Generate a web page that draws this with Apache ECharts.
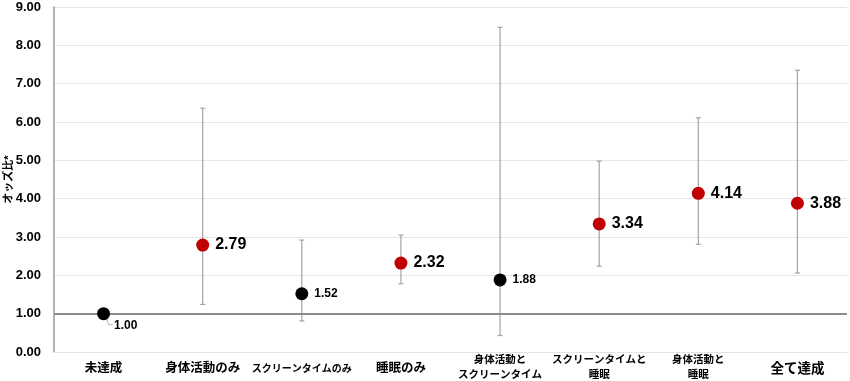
<!DOCTYPE html>
<html>
<head>
<meta charset="utf-8">
<script src="https://cdn.jsdelivr.net/npm/echarts@6/dist/echarts.min.js"></script>
<style>html,body{margin:0;padding:0;background:#fff;}#c{width:850px;height:381px;}</style>
</head>
<body>
<div id="c"></div>
<script>
const categories = ['未達成', '身体活動のみ', 'スクリーンタイムのみ', '睡眠のみ', '身体活動と\nスクリーンタイム', 'スクリーンタイムと\n睡眠', '身体活動と\n睡眠', '全て達成'];
const categoryFontSizes = [12.5, 12.5, 10, 12.5, 10.5, 10.5, 10.5, 13.5];
const oddsRatio = [1.00, 2.79, 1.52, 2.32, 1.88, 3.34, 4.14, 3.88];
const ciLower = [1.00, 1.24, 0.81, 1.78, 0.43, 2.24, 2.81, 2.06];
const ciUpper = [1.00, 6.36, 2.92, 3.05, 8.47, 4.98, 6.11, 7.35];
const significant = [false, true, false, true, false, true, true, true];
const yTicks = { min: 0, max: 9, interval: 1 };

const FONT = '"Liberation Sans", Arial, "Noto Sans CJK JP", sans-serif';
const RED = '#C00000';
const BLACK = '#000000';

const chart = echarts.init(document.getElementById('c'), null, { renderer: 'canvas' });

const xData = categories.map((c, i) => {
  const twoLine = c.indexOf('\n') >= 0;
  return {
    value: c,
    textStyle: {
      fontSize: categoryFontSizes[i],
      lineHeight: twoLine ? 15 : 16,
      padding: twoLine ? [-1, 0, 0, 0] : [7, 0, 0, 0]
    }
  };
});

const scatterData = oddsRatio.map((v, i) => {
  const sig = significant[i];
  return {
    value: [i, v],
    itemStyle: { color: sig ? RED : BLACK, opacity: 1 },
    label: { fontSize: sig ? 16 : 12 }
  };
});

const errData = oddsRatio.map((v, i) => [i, ciLower[i], ciUpper[i], v]);

const option = {
  animation: false,
  backgroundColor: '#fff',
  textStyle: { fontFamily: FONT },
  grid: { left: 54, right: 3, top: 7, bottom: 29, containLabel: false, outerBoundsMode: 'none' },
  xAxis: {
    type: 'category',
    data: xData,
    axisLine: { show: true, lineStyle: { color: '#e3e3e3', width: 1 } },
    axisTick: { show: false },
    axisLabel: {
      interval: 0,
      color: '#000',
      fontWeight: 'bold',
      fontFamily: FONT,
      margin: 2,
      verticalAlign: 'top'
    },
    splitLine: { show: false }
  },
  yAxis: {
    type: 'value',
    min: yTicks.min,
    max: yTicks.max,
    interval: yTicks.interval,
    name: 'オッズ比*',
    nameLocation: 'middle',
    nameGap: 40,
    nameMoveOverlap: false,
    nameTextStyle: { fontSize: 11, fontWeight: 'bold', color: '#000', fontFamily: FONT },
    axisLine: { show: true, lineStyle: { color: '#9a9a9a', width: 1.5 } },
    axisTick: { show: false },
    axisLabel: {
      formatter: v => v.toFixed(2),
      fontSize: 13,
      fontWeight: 'bold',
      color: '#000',
      fontFamily: FONT,
      margin: 13
    },
    splitLine: { show: true, lineStyle: { color: '#e6e6e6', width: 1 } }
  },
  series: [
    {
      type: 'custom',
      z: 2,
      renderItem: function (params, api) {
        const x = api.value(0);
        const lo = api.coord([x, api.value(1)]);
        const hi = api.coord([x, api.value(2)]);
        const pt = api.coord([x, api.value(3)]);
        const gray = '#a3a3a3';
        if (Math.abs(lo[1] - hi[1]) < 1) {
          // no CI: draw a small leader line to the displaced data label
          return {
            type: 'polyline',
            shape: { points: [[pt[0] + 3, pt[1] + 5], [pt[0] + 5, pt[1] + 11], [pt[0] + 9, pt[1] + 11]] },
            style: { stroke: '#b0b0b0', lineWidth: 1, fill: null }
          };
        }
        const cap = 2.5;
        const style = { stroke: gray, lineWidth: 1.2 };
        return {
          type: 'group',
          children: [
            { type: 'line', shape: { x1: lo[0], y1: lo[1], x2: hi[0], y2: hi[1] }, style: style },
            { type: 'line', shape: { x1: lo[0] - cap, y1: lo[1], x2: lo[0] + cap, y2: lo[1] }, style: style },
            { type: 'line', shape: { x1: hi[0] - cap, y1: hi[1], x2: hi[0] + cap, y2: hi[1] }, style: style }
          ]
        };
      },
      data: errData,
      silent: true
    },
    {
      type: 'scatter',
      z: 5,
      symbol: 'circle',
      symbolSize: 13,
      data: scatterData,
      itemStyle: { opacity: 1 },
      label: {
        show: true,
        position: 'right',
        distance: 6,
        formatter: p => p.value[1].toFixed(2),
        fontWeight: 'bold',
        color: '#000',
        fontFamily: FONT
      },
      labelLine: { show: false },
      labelLayout: function (params) {
        if (params.dataIndex === 0) return { dx: -2, dy: 12 };
        return {};
      },
      markLine: {
        silent: true,
        symbol: 'none',
        label: { show: false },
        lineStyle: { color: '#8c8c8c', width: 2, type: 'solid' },
        data: [{ yAxis: 1 }]
      }
    }
  ]
};
chart.setOption(option);
</script>
</body>
</html>
